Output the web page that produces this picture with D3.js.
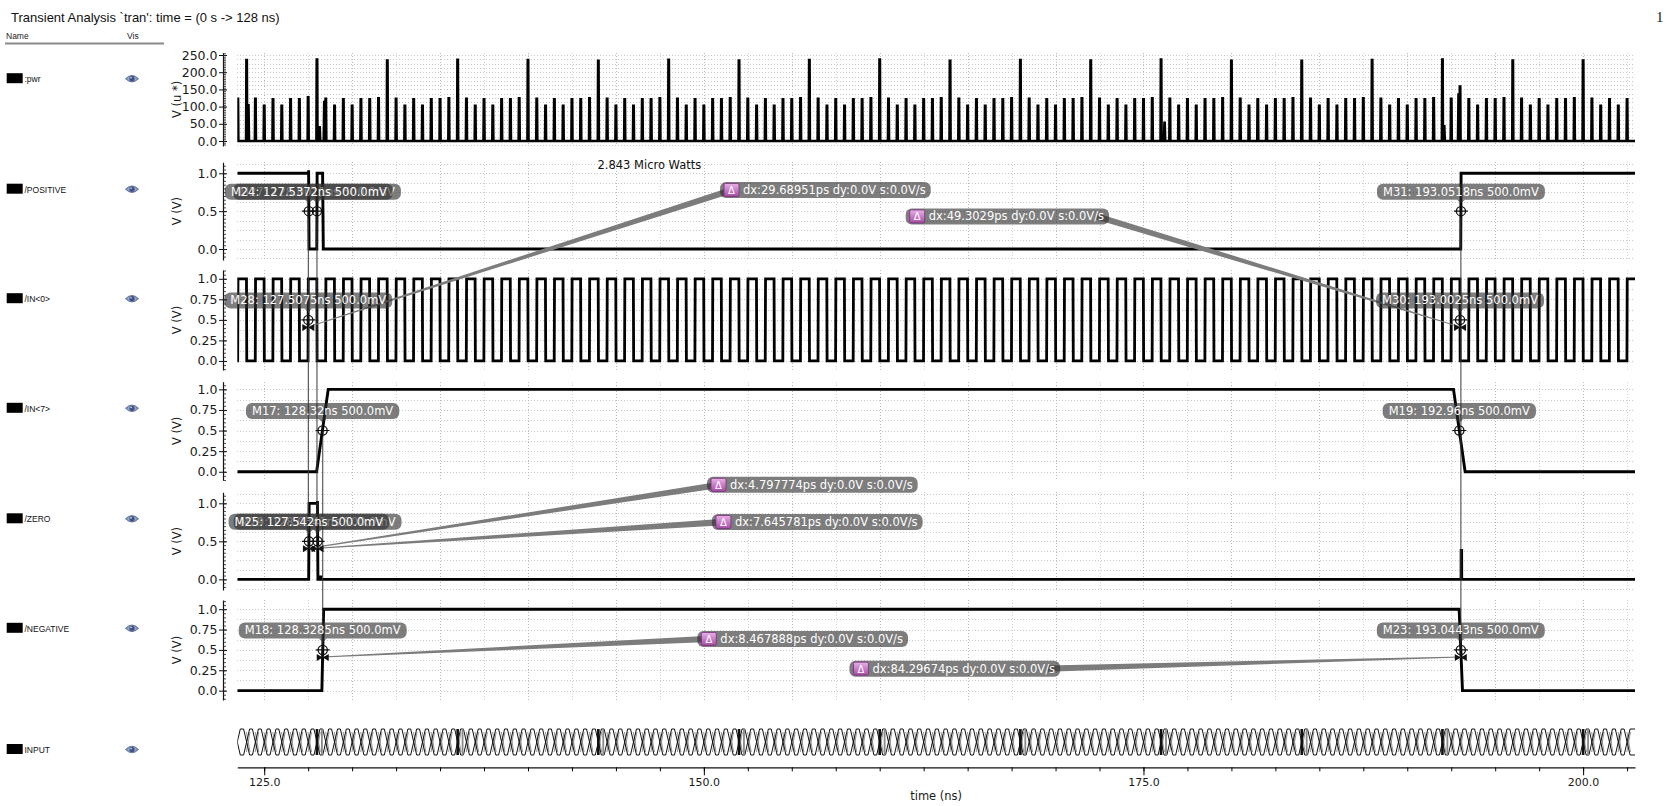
<!DOCTYPE html>
<html><head><meta charset="utf-8">
<script src="https://cdn.jsdelivr.net/npm/d3@7/dist/d3.min.js"></script>
<style>body{margin:0;background:#fff;overflow:hidden}svg{display:block}</style>
</head><body>
<svg id="c" width="1667" height="806"></svg>
<script>
// ================= DATA =================
const titleText = "Transient Analysis `tran': time = (0 s -> 128 ns)";
const timeDomain = [123.47, 202.95];                 // ns
const xTickValues = [125, 150, 175, 200];
const xTickLabels = ["125.0", "150.0", "175.0", "200.0"];
const xMinorStep = 2.5;
const xAxisTitle = "time (ns)";

const signalNames = [":pwr", "/POSITIVE", "/IN<0>", "/IN<7>", "/ZERO", "/NEGATIVE", "INPUT"];
const yAxisTitles = ["V (u *)", "V (V)", "V (V)", "V (V)", "V (V)", "V (V)"];

const pwrTicks = [0, 50, 100, 150, 200, 250];
const pwrTickLabels = ["0.0", "50.0", "100.0", "150.0", "200.0", "250.0"];
const halfTicks = [0, 0.5, 1];
const halfTickLabels = ["0.0", "0.5", "1.0"];
const quarterTicks = [0, 0.25, 0.5, 0.75, 1];
const quarterTickLabels = ["0.0", "0.25", "0.5", "0.75", "1.0"];

// :pwr  — one switching spike per clock edge (first at 123.5 ns, one every 0.5 ns), heights in u*
const pwrFirstSpike = 123.5, pwrSpikeStep = 0.5;
const pwrPeaks = [
  123,
  235,123,102,121,102,121,121,127,
  237,123,102,121,102,121,121,124,
  234,123,102,121,102,121,121,124,
  236,123,102,121,102,121,121,124,
  235,123,102,121,102,121,121,124,
  233,123,102,121,102,121,121,124,
  236,123,102,121,102,121,121,124,
  234,123,102,121,102,121,121,124,
  235,123,102,121,102,121,121,124,
  237,123,102,121,102,121,121,124,
  233,123,102,121,102,121,121,124,
  235,123,102,121,102,121,121,124,
  234,123,102,121,102,121,121,124,
  237,123,102,121,102,121,121,124,
  233,123,102,121,102,121,121,124,
  233,123,102,121,102,121,121,124,
  235,123,102,121,102,121,121,124,
  237,123,158,121,102,121,121,124,
  234,123,102,121,102,121,121,124,
  234,123,102,121,102,121
];
const pwrExtraTimes  = [124.1, 128.15, 128.42, 176.2, 192.1, 192.92];
const pwrExtraValues = [104,   40,     113,    53,    43,    135];

// piecewise-linear waveforms (time in ns, value in V)
const positiveTimes  = [123.47, 127.52, 127.525, 127.55, 127.99, 128.01, 128.32, 128.36, 193.04, 193.06, 202.95];
const positiveValues = [1,      1,      1.04,    0,      0,      1,      1,      0,      0,      1,      1];
const in7Times  = [123.47, 127.98, 128.64, 192.63, 193.29, 202.95];
const in7Values = [0,      0,      1,      1,      0,      0];
const zeroTimes  = [123.47, 127.53, 127.555, 128.02, 128.025, 128.055, 128.2, 128.22, 128.24, 193.06, 193.065, 193.09, 193.095, 202.95];
const zeroValues = [0,      0,      1,       1,      1.03,    0,       0,     0.05,   0,      0,      0.38,    0.38,   0,       0];
const negativeTimes  = [123.47, 128.28, 128.38, 192.95, 193.14, 202.95];
const negativeValues = [0,      0,      1,      1,      0,      0];

// IN<0>: 1 GHz clock, rising at x.5 ns, falling at x.0 ns
const clockFirstRise = 123.5, clockPeriod = 1.0;

// INPUT bus: changes on every clock edge, heavy transitions every 8 ns
const busFirstChange = 124.0, busChangeStep = 0.5;
const busHeavyTimes = [128, 136, 144, 152, 160, 168, 176, 184, 192, 200];

// markers (all at 500.0mV)
const markerIds       = ["M27", "M24", "M28", "M31", "M30", "M17", "M19", "M29", "M25", "M18", "M23"];
const markerPanels    = [1, 1, 2, 1, 2, 3, 3, 4, 4, 5, 5];
const markerTimeTexts = ["128.0011", "127.5372", "127.5075", "193.0518", "193.0025", "128.32", "192.96", "128.0341", "127.542", "128.3285", "193.0443"];
const markerValue = 0.5;
const markerValueText = "500.0mV";
const markerIsDeltaEnd = [false, false, true, false, true, false, false, true, true, true, true];

// delta markers
const deltaTexts = [
  "dx:29.68951ps dy:0.0V s:0.0V/s",
  "dx:49.3029ps dy:0.0V s:0.0V/s",
  "dx:4.797774ps dy:0.0V s:0.0V/s",
  "dx:7.645781ps dy:0.0V s:0.0V/s",
  "dx:8.467888ps dy:0.0V s:0.0V/s",
  "dx:84.29674ps dy:0.0V s:0.0V/s"
];
const deltaFrom = ["M28", "M30", "M25", "M29", "M18", "M23"];
const powerNote = "2.843 Micro Watts";

// ================= LAYOUT =================
const W = 1667, H = 806;
const X_LEFT = 237.3, X_RIGHT = 1635, SPINE_X = 223;
const panels = [
  {top: 52.7,  bottom: 146, lo: -14.5, hi: 256.7, nameY: 78.7,  ticks: pwrTicks,     labels: pwrTickLabels,     minor: 5,    grid: 12.5},
  {top: 162.3, bottom: 260, lo: -0.145, hi: 1.145, nameY: 189.2, ticks: halfTicks,    labels: halfTickLabels,    minor: 0.05, grid: 0.125},
  {top: 270,   bottom: 370, lo: -0.11, hi: 1.107, nameY: 298.7, ticks: quarterTicks, labels: quarterTickLabels, minor: 0.05, grid: 0.125},
  {top: 381.7, bottom: 480, lo: -0.1,  hi: 1.093, nameY: 408.3, ticks: quarterTicks, labels: quarterTickLabels, minor: 0.05, grid: 0.125},
  {top: 492.3, bottom: 590, lo: -0.14, hi: 1.145, nameY: 518.8, ticks: halfTicks,    labels: halfTickLabels,    minor: 0.05, grid: 0.125},
  {top: 600,   bottom: 700, lo: -0.115,hi: 1.113, nameY: 628.3, ticks: quarterTicks, labels: quarterTickLabels, minor: 0.05, grid: 0.125}
];
const BUS = {top: 729, bottom: 755, nameY: 749.5};
const AXIS_Y = 767.3;
// annotation anchors (time, panel, value) for delta labels
const deltaAnchors = [
  {t: 150.92, p: 1, v: 0.78}, {t: 161.48, p: 1, v: 0.43},
  {t: 150.18, p: 4, v: 1.243}, {t: 150.46, p: 4, v: 0.754},
  {t: 149.63, p: 5, v: 0.635}, {t: 158.28, p: 5, v: 0.27}
];
const noteAnchor = {t: 143.95, p: 1, v: 1.11};
const guides = [
  {t: 127.5075, p1: 1, v1: 0.5, p2: 4, v2: 0.5},
  {t: 128.0011, p1: 1, v1: 0.5, p2: 4, v2: 0.5},
  {t: 128.3285, p1: 3, v1: 0.5, p2: 5, v2: 0.5},
  {t: 193.05,   p1: 1, v1: 0.5, p2: 5, v2: 0.5}
];

const SANS = "DejaVu Sans, Verdana, sans-serif";
const LSANS = "Liberation Sans, Arial, sans-serif";

// ================= DRAW =================
const svg = d3.select("#c");
const defs = svg.append("defs");
const grad = defs.append("linearGradient").attr("id", "pink").attr("x1", 0).attr("y1", 0).attr("x2", 0).attr("y2", 1);
grad.append("stop").attr("offset", "0%").attr("stop-color", "#eab0ea");
grad.append("stop").attr("offset", "100%").attr("stop-color", "#a64ca6");
const eyeGrad = defs.append("radialGradient").attr("id", "eyeg");
eyeGrad.append("stop").attr("offset", "0%").attr("stop-color", "#c9d4ea");
eyeGrad.append("stop").attr("offset", "100%").attr("stop-color", "#6f82ad");
defs.append("clipPath").attr("id", "plotclip").append("rect")
  .attr("x", X_LEFT).attr("y", 0).attr("width", X_RIGHT - X_LEFT).attr("height", H);

const x = d3.scaleLinear().domain(timeDomain).range([X_LEFT, X_RIGHT]);
const ys = panels.map(p => d3.scaleLinear().domain([p.lo, p.hi]).range([p.bottom, p.top]));

// title & header
svg.append("text").attr("x", 11).attr("y", 21.5).attr("font-family", LSANS).attr("font-size", 13)
  .attr("fill", "#111").text(titleText);
svg.append("text").attr("x", 1656).attr("y", 22).attr("font-family", "Liberation Serif, serif").attr("font-size", 15)
  .attr("fill", "#222").text("1");
svg.append("text").attr("x", 6).attr("y", 39).attr("font-family", LSANS).attr("font-size", 8.5).attr("fill", "#222").text("Name");
svg.append("text").attr("x", 127).attr("y", 39).attr("font-family", LSANS).attr("font-size", 8.5).attr("fill", "#222").text("Vis");
svg.append("line").attr("x1", 5).attr("x2", 164).attr("y1", 43.5).attr("y2", 43.5).attr("stroke", "#8a8a8a").attr("stroke-width", 2);

// name column
const nameYs = panels.map(p => p.nameY).concat([BUS.nameY]);
signalNames.forEach((n, i) => {
  const yy = nameYs[i];
  svg.append("rect").attr("x", 6.7).attr("y", yy - 5.5).attr("width", 16).attr("height", 10).attr("fill", "#000");
  svg.append("text").attr("x", 24.5).attr("y", yy + 3.5).attr("font-family", LSANS).attr("font-size", 8.5)
    .attr("fill", "#111").text(n);
  const e = svg.append("g").attr("transform", `translate(132,${yy})`);
  e.append("path").attr("d", "M-6.5,0 Q0,-6.5 6.5,0 Q0,6.5 -6.5,0 Z").attr("fill", "url(#eyeg)").attr("stroke", "#5c6d98").attr("stroke-width", 0.9);
  e.append("circle").attr("r", 2.6).attr("fill", "#3f5183");
  e.append("circle").attr("cx", -0.9).attr("cy", -0.9).attr("r", 0.8).attr("fill", "#dfe6f5");
});

// grids
const vGridTimes = d3.range(125, timeDomain[1], 2.5);
panels.forEach((p, i) => {
  const g = svg.append("g").attr("shape-rendering", "crispEdges");
  const hv = d3.range(Math.ceil(p.lo / p.grid) * p.grid, p.hi + 1e-9, p.grid);
  g.selectAll("line.h").data(hv).join("line")
    .attr("x1", X_LEFT).attr("x2", X_RIGHT)
    .attr("y1", d => Math.round(ys[i](d)) + 0.5).attr("y2", d => Math.round(ys[i](d)) + 0.5)
    .attr("stroke", "#c9c9c9").attr("stroke-dasharray", "1,2");
  g.selectAll("line.v").data(vGridTimes).join("line")
    .attr("x1", d => Math.round(x(d)) + 0.5).attr("x2", d => Math.round(x(d)) + 0.5)
    .attr("y1", p.top).attr("y2", p.bottom)
    .attr("stroke", d => (d % 5 === 0 ? "#b9b9b9" : "#d2d2d2")).attr("stroke-dasharray", "1,2");
});

// y axes
panels.forEach((p, i) => {
  const ax = svg.append("g").attr("transform", `translate(${SPINE_X},0)`)
    .call(d3.axisLeft(ys[i]).tickValues(p.ticks).tickFormat((d, j) => p.labels[j]).tickSize(4).tickSizeOuter(0).tickPadding(1.5));
  ax.select(".domain").attr("stroke", "#111").attr("stroke-width", 1.2);
  ax.selectAll(".tick line").attr("x1", 4).attr("stroke", "#111");
  ax.selectAll("text").attr("font-family", SANS).attr("font-size", 12.5).attr("fill", "#1a1a1a");
  const mv = d3.range(Math.ceil(p.lo / p.minor) * p.minor, p.hi + 1e-9, p.minor);
  const mx = svg.append("g").attr("transform", `translate(${SPINE_X},0)`)
    .call(d3.axisRight(ys[i]).tickValues(mv).tickSize(3).tickFormat(""));
  mx.select(".domain").remove();
  mx.selectAll("line").attr("stroke", "#222").attr("stroke-width", 0.8);
  svg.append("text").attr("transform", `translate(181,${(p.top + p.bottom) / 2}) rotate(-90)`)
    .attr("text-anchor", "middle").attr("font-family", SANS).attr("font-size", 11.5).attr("fill", "#1a1a1a")
    .text(yAxisTitles[i]);
});

// x axis
const xa = svg.append("g").attr("transform", `translate(0,${AXIS_Y})`)
  .call(d3.axisBottom(x).tickValues(xTickValues).tickFormat((d, j) => xTickLabels[j]).tickSize(8).tickSizeOuter(0).tickPadding(3));
xa.select(".domain").attr("stroke", "#111").attr("stroke-width", 1.2);
xa.selectAll("text").attr("font-family", SANS).attr("font-size", 11).attr("fill", "#1a1a1a");
const xm = svg.append("g").attr("transform", `translate(0,${AXIS_Y})`)
  .call(d3.axisBottom(x).tickValues(d3.range(125, timeDomain[1], xMinorStep)).tickSize(4).tickFormat(""));
xm.select(".domain").remove();
svg.append("text").attr("x", (X_LEFT + X_RIGHT) / 2).attr("y", 800).attr("text-anchor", "middle")
  .attr("font-family", SANS).attr("font-size", 11.5).attr("fill", "#1a1a1a").text(xAxisTitle);

// traces
const traces = svg.append("g").attr("clip-path", "url(#plotclip)");
function drawTrace(pi, pts, w) {
  const line = d3.line().x(d => x(d[0])).y(d => ys[pi](d[1]));
  traces.append("path").attr("d", line(pts)).attr("fill", "none").attr("stroke", "#000")
    .attr("stroke-width", w).attr("stroke-linejoin", "miter").attr("stroke-miterlimit", 2);
}
// pwr
const spikes = pwrPeaks.map((v, i) => ({t: pwrFirstSpike + i * pwrSpikeStep, v, base: 0.03, top: 0.012}))
  .concat(pwrExtraTimes.map((t, i) => ({t, v: pwrExtraValues[i], base: 0.035, top: 0.006})))
  .sort((a, b) => a.t - b.t);
const pwrPts = [[timeDomain[0], 0]];
spikes.forEach(s => {
  pwrPts.push([s.t - s.base, 0], [s.t - s.top, s.v], [s.t + s.top, s.v], [s.t + s.base, 0]);
});
pwrPts.push([timeDomain[1], 0]);
drawTrace(0, pwrPts, 2.6);
// POSITIVE, IN<7>, ZERO, NEGATIVE
drawTrace(1, positiveTimes.map((t, i) => [t, positiveValues[i]]), 2.9);
drawTrace(3, in7Times.map((t, i) => [t, in7Values[i]]), 2.9);
drawTrace(4, zeroTimes.map((t, i) => [t, zeroValues[i]]), 2.9);
drawTrace(5, negativeTimes.map((t, i) => [t, negativeValues[i]]), 2.9);
// IN<0> clock
const clkPts = [[timeDomain[0], 0]];
let lvl = 0;
for (let r = clockFirstRise; r < timeDomain[1]; r += clockPeriod) {
  clkPts.push([r - 0.008, 0], [r + 0.008, 1]); lvl = 1;
  const f = r + clockPeriod / 2;
  if (f < timeDomain[1]) { clkPts.push([f - 0.008, 1], [f + 0.008, 0]); lvl = 0; }
}
clkPts.push([timeDomain[1], lvl]);
drawTrace(2, clkPts, 2.8);

// INPUT bus
const busG = svg.append("g").attr("clip-path", "url(#plotclip)");
const bt = BUS.top, bb = BUS.bottom, bm = (bt + bb) / 2, hw = 0.17;
const changes = d3.range(busFirstChange, timeDomain[1], busChangeStep);
let bp = `M${x(timeDomain[0])},${bm} L${x(timeDomain[0] + hw)},${bt} M${x(timeDomain[0])},${bm} L${x(timeDomain[0] + hw)},${bb}`;
let prev = timeDomain[0] + hw;
changes.forEach(t => {
  bp += ` M${x(prev)},${bt} L${x(t - hw)},${bt} M${x(prev)},${bb} L${x(t - hw)},${bb}`;
  bp += ` M${x(t - hw)},${bt} L${x(t + hw)},${bb} M${x(t - hw)},${bb} L${x(t + hw)},${bt}`;
  prev = t + hw;
});
bp += ` M${x(prev)},${bt} L${x(timeDomain[1])},${bt} M${x(prev)},${bb} L${x(timeDomain[1])},${bb}`;
let bp2 = "";
changes.forEach(t => {
  const a = t + 0.09;
  bp2 += ` M${x(a - hw * 0.6)},${bt + 3} L${x(a + hw * 0.6)},${bb - 3} M${x(a - hw * 0.6)},${bb - 3} L${x(a + hw * 0.6)},${bt + 3}`;
});
busG.append("path").attr("d", bp2).attr("fill", "none").attr("stroke", "#888").attr("stroke-width", 0.9);
busG.append("path").attr("d", bp).attr("fill", "none").attr("stroke", "#111").attr("stroke-width", 1);
busG.selectAll("rect.hv").data(busHeavyTimes).join("rect")
  .attr("x", d => x(d) - 1.3).attr("width", 2.6).attr("y", bt).attr("height", bb - bt).attr("fill", "#111");
busG.selectAll("rect.hg").data(busHeavyTimes).join("rect")
  .attr("x", d => x(d + 0.28) - 0.9).attr("width", 1.8).attr("y", bt).attr("height", bb - bt).attr("fill", "#8a8a8a");

// marker positions
const mpos = {};
markerIds.forEach((id, i) => {
  mpos[id] = {x: x(+markerTimeTexts[i]), y: ys[markerPanels[i]](markerValue), i};
});

// guide lines
const gl = svg.append("g");
guides.forEach(g => {
  gl.append("line").attr("x1", x(g.t)).attr("x2", x(g.t))
    .attr("y1", ys[g.p1](g.v1)).attr("y2", ys[g.p2](g.v2))
    .attr("stroke", "#3a3a3a").attr("stroke-width", 1);
});

// delta boxes geometry (measure text first)
const measure = svg.append("text").attr("font-family", SANS).attr("font-size", 11.5).attr("visibility", "hidden");
function textLen(s) { measure.text(s); return measure.node().getComputedTextLength(); }
const deltaBoxes = deltaTexts.map((s, i) => {
  const a = deltaAnchors[i];
  const left = x(a.t), cy = ys[a.p](a.v);
  const w = 23 + textLen(s) + 5;
  return {left, cy, w, right: left + w};
});

// wedges
const wedgeG = svg.append("g");
deltaFrom.forEach((id, i) => {
  const m = mpos[id], b = deltaBoxes[i];
  const ax0 = m.x, ay0 = m.y + 7;
  const bx = Math.max(b.left + 12, Math.min(b.right - 12, ax0)), by = b.cy;
  const dx = bx - ax0, dy = by - ay0, L = Math.hypot(dx, dy);
  const nx = -dy / L, ny = dx / L;
  const pts = [[ax0 + nx * 0.5, ay0 + ny * 0.5], [bx + nx * 3.2, by + ny * 3.2], [bx - nx * 3.2, by - ny * 3.2], [ax0 - nx * 0.5, ay0 - ny * 0.5]];
  wedgeG.append("polygon").attr("points", pts.map(p => p.join(",")).join(" ")).attr("fill", "#7c7c7c");
});

// marker symbols
const ms = svg.append("g");
markerIds.forEach((id, i) => {
  const m = mpos[id];
  ms.append("circle").attr("cx", m.x).attr("cy", m.y).attr("r", 4.6).attr("fill", "none").attr("stroke", "#111").attr("stroke-width", 1.3);
  ms.append("path").attr("d", `M${m.x - 7},${m.y} H${m.x + 7} M${m.x},${m.y - 7} V${m.y + 7}`).attr("stroke", "#111").attr("stroke-width", 1.1);
  if (markerIsDeltaEnd[i]) {
    const by = m.y + 7.5;
    ms.append("path").attr("d", `M${m.x - 6},${by - 3.5} L${m.x},${by} L${m.x - 6},${by + 3.5} Z M${m.x + 6},${by - 3.5} L${m.x},${by} L${m.x + 6},${by + 3.5} Z`)
      .attr("fill", "#111");
  }
});

// marker labels (overlapping pairs are stacked exactly as in the source plot)
const ml = svg.append("g");
markerIds.forEach((id, i) => {
  const m = mpos[id];
  const s = `${id}: ${markerTimeTexts[i]}ns ${markerValueText}`;
  const w = textLen(s) + 12;
  const bottom = m.y - 11.5, top = bottom - 16;
  const g = ml.append("g");
  g.append("path").attr("d", `M${m.x - 4},${bottom} L${m.x},${bottom + 3.5} L${m.x + 4},${bottom} Z`).attr("fill", "rgba(45,45,45,0.62)");
  g.append("rect").attr("x", m.x - w / 2).attr("y", top).attr("width", w).attr("height", 16).attr("rx", 6)
    .attr("fill", "rgba(45,45,45,0.62)");
  g.append("text").attr("x", m.x).attr("y", top + 12).attr("text-anchor", "middle")
    .attr("font-family", SANS).attr("font-size", 11.5).attr("fill", "#fff").text(s);
});

// delta labels
const dl = svg.append("g");
deltaTexts.forEach((s, i) => {
  const b = deltaBoxes[i];
  const top = b.cy - 8;
  dl.append("rect").attr("x", b.left).attr("y", top).attr("width", b.w).attr("height", 16).attr("rx", 6)
    .attr("fill", "rgba(45,45,45,0.62)");
  dl.append("rect").attr("x", b.left + 4).attr("y", top + 1.5).attr("width", 15).attr("height", 13).attr("rx", 1.5)
    .attr("fill", "url(#pink)").attr("stroke", "#7a2d7a").attr("stroke-width", 0.8);
  dl.append("text").attr("x", b.left + 11.5).attr("y", top + 12).attr("text-anchor", "middle")
    .attr("font-family", SANS).attr("font-size", 10).attr("fill", "#fff").text("\u0394");
  dl.append("text").attr("x", b.left + 23).attr("y", top + 12)
    .attr("font-family", SANS).attr("font-size", 11.5).attr("fill", "#fff").text(s);
});

// power note
svg.append("text").attr("x", x(noteAnchor.t)).attr("y", ys[noteAnchor.p](noteAnchor.v) + 4)
  .attr("font-family", SANS).attr("font-size", 11.5).attr("fill", "#111").text(powerNote);
measure.remove();
</script>
</body></html>
